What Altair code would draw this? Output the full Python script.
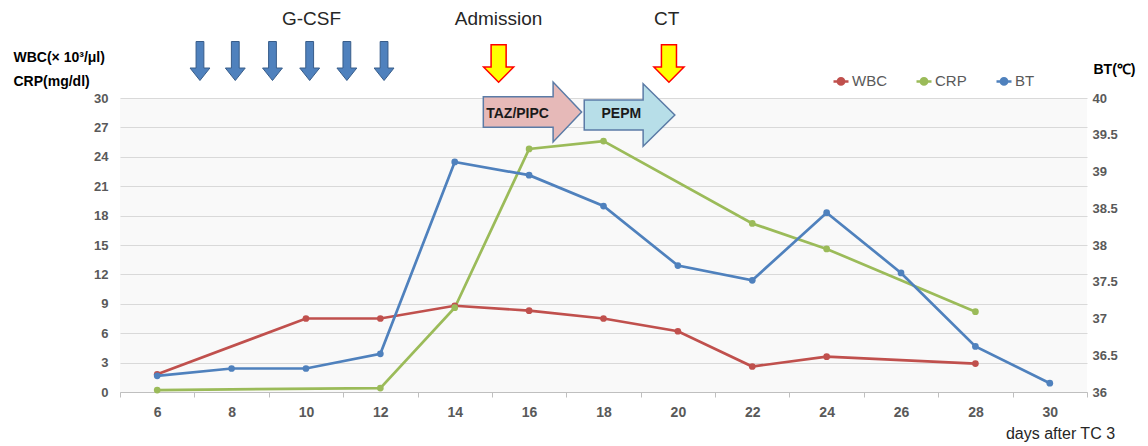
import altair as alt
import pandas as pd

# ---- data ----
days = [6, 8, 10, 12, 14, 16, 18, 20, 22, 24, 26, 28, 30]

wbc_days = [6, 10, 12, 14, 16, 18, 20, 22, 24, 28]
wbc_vals = [1.8, 7.5, 7.5, 8.8, 8.3, 7.5, 6.2, 2.6, 3.6, 2.9]

crp_days = [6, 12, 14, 16, 18, 22, 24, 28]
crp_vals = [0.2, 0.4, 8.6, 24.8, 25.6, 17.2, 14.6, 8.2]

bt_days = [6, 8, 10, 12, 14, 16, 18, 20, 22, 24, 26, 28, 30]
bt_vals = [36.22, 36.32, 36.32, 36.52, 39.13, 38.95, 38.53, 37.72, 37.52, 38.44, 37.62, 36.62, 36.12]

series_names = ["WBC", "CRP", "BT"]
series_colors = ["#C0504D", "#9BBB59", "#4F81BD"]

gcsf_days = [7.15, 8.1, 9.1, 10.1, 11.1, 12.1]
event_labels = ["G-CSF", "Admission", "CT"]
event_label_days = [10.15, 15.18, 19.7]
event_arrow_days = [15.18, 19.76]
treat_labels = ["TAZ/PIPC", "PEPM"]
treat_arrow_days = [16.09, 18.70]
treat_label_days = [15.69, 18.48]

# ---- frames ----
df_left = pd.DataFrame({
    "day": wbc_days + crp_days,
    "value": wbc_vals + crp_vals,
    "series": ["WBC"] * len(wbc_days) + ["CRP"] * len(crp_days),
})
df_bt = pd.DataFrame({"day": bt_days, "value": bt_vals, "series": ["BT"] * len(bt_days)})
df_gcsf = pd.DataFrame({"day": gcsf_days})
df_evlab = pd.DataFrame({"day": event_label_days, "label": event_labels})
df_evarrow = pd.DataFrame({"day": event_arrow_days})
df_taz = pd.DataFrame({"day": [treat_arrow_days[0]], "label": [treat_labels[0]]})
df_pepm = pd.DataFrame({"day": [treat_arrow_days[1]], "label": [treat_labels[1]]})
df_treatlab = pd.DataFrame({"day": treat_label_days, "label": treat_labels})

FONT = "Liberation Sans"
LABEL_GRAY = "#595959"

band_scale = alt.Scale(type="band", domain=days, paddingInner=0, paddingOuter=0)
xq = alt.X("day:Q", scale=alt.Scale(domain=[5, 31], nice=False, zero=False), axis=None)

leg_path = ("M-1,0L-0.42,0M0.42,0L1,0"
            "M0.42,0A0.42,0.42,0,1,1,-0.42,0A0.42,0.42,0,1,1,0.42,0Z")

color = alt.Color(
    "series:N",
    scale=alt.Scale(domain=series_names, range=series_colors),
    legend=alt.Legend(
        title=None, orient="none", legendX=712, legendY=-26, direction="horizontal",
        symbolType=leg_path, symbolSize=225, symbolStrokeWidth=2.5,
        labelFontSize=15, labelColor=LABEL_GRAY, labelFont=FONT, labelOffset=2,
        columnPadding=24, padding=0,
    ),
)

left = alt.Chart(df_left).mark_line(
    strokeWidth=2.7, point=alt.OverlayMarkDef(filled=True, size=45)
).encode(
    x=alt.X("day:O", scale=band_scale, bandPosition=0.5,
            axis=alt.Axis(title="days after TC 3", labelAngle=0, tickBand="extent", grid=False,
                          labelFont=FONT, labelFontSize=14, labelFontWeight="bold",
                          labelColor=LABEL_GRAY, labelPadding=8, tickSize=5,
                          tickColor="#bfbfbf", domainColor="#bfbfbf",
                          titleFont=FONT, titleFontSize=16, titleFontWeight="normal",
                          titleColor="#262626", titleX=940, titleY=41, titleAlign="center",
                          titleBaseline="middle")),
    y=alt.Y("value:Q", scale=alt.Scale(domain=[0, 30], nice=False),
            axis=alt.Axis(values=list(range(0, 31, 3)),
                          title=["WBC(× 10³/μl)", "CRP(mg/dl)"], titleAngle=0,
                          titleAlign="left", titleBaseline="middle", titleX=-107, titleY=-41,
                          titleLineHeight=24, titleFont=FONT, titleFontSize=14,
                          titleFontWeight="bold", titleColor="#000000",
                          labelFont=FONT, labelFontSize=13, labelFontWeight="bold",
                          labelColor=LABEL_GRAY, labelPadding=12, ticks=False, domain=False,
                          grid=True, gridColor="#d9d9d9")),
    color=color,
)

bt = alt.Chart(df_bt).mark_line(
    strokeWidth=2.7, point=alt.OverlayMarkDef(filled=True, size=45)
).encode(
    x=alt.X("day:O", scale=band_scale, bandPosition=0.5, axis=None),
    y=alt.Y("value:Q", scale=alt.Scale(domain=[36, 40], nice=False, zero=False),
            axis=alt.Axis(orient="right", values=[36, 36.5, 37, 37.5, 38, 38.5, 39, 39.5, 40],
                          labelExpr="datum.value % 1 === 0 ? format(datum.value, 'd') : format(datum.value, '.1f')",
                          title="BT(℃)", titleAngle=0, titleAlign="left",
                          titleBaseline="middle", titleX=6, titleY=-29,
                          titleFont=FONT, titleFontSize=14, titleFontWeight="bold",
                          titleColor="#000000",
                          labelFont=FONT, labelFontSize=13, labelFontWeight="bold",
                          labelColor=LABEL_GRAY, labelPadding=5, ticks=False, domain=False,
                          grid=False)),
    color=color,
)

blue_arrow = "M-0.2,-1L0.2,-1L0.2,0.36L0.51,0.36L0,1L-0.51,0.36L-0.2,0.36Z"
yellow_arrow = "M-0.4,-1L0.4,-1L0.4,0.19L0.8,0.19L0,1L-0.8,0.19L-0.4,0.19Z"
taz_arrow = "M-1,-0.31L0.42,-0.31L0.42,-0.61L1,0L0.42,0.61L0.42,0.31L-1,0.31Z"
pepm_arrow = "M-1,-0.33L0.3,-0.33L0.3,-0.69L1,0L0.3,0.69L0.3,0.33L-1,0.33Z"

gcsf = alt.Chart(df_gcsf).mark_point(
    shape=blue_arrow, size=1521, filled=True, fill="#4F81BD", stroke="#385D8A",
    strokeWidth=1, opacity=1,
).encode(x=xq, y=alt.value(-37))

evarrow = alt.Chart(df_evarrow).mark_point(
    shape=yellow_arrow, size=1414, filled=True, fill="#FFFF00", stroke="#FF0000",
    strokeWidth=1.5, opacity=1,
).encode(x=xq, y=alt.value(-34.5))

evlab = alt.Chart(df_evlab).mark_text(
    font=FONT, fontSize=19, color="#262626", baseline="middle", align="center"
).encode(x=xq, y=alt.value(-79), text="label:N")

taz = alt.Chart(df_taz).mark_point(
    shape=taz_arrow, size=9663, filled=True, fill="#E6B9B8", stroke="#5B7BA6",
    strokeWidth=1.5, opacity=1,
).encode(x=xq, y=alt.value(14))

pepm = alt.Chart(df_pepm).mark_point(
    shape=pepm_arrow, size=8208, filled=True, fill="#B7DEE8", stroke="#5B7BA6",
    strokeWidth=1.5, opacity=1,
).encode(x=xq, y=alt.value(17))

treatlab = alt.Chart(df_treatlab).mark_text(
    font=FONT, fontSize=14, fontWeight="bold", color="#1a1a1a", baseline="middle", align="center"
).encode(x=xq, y=alt.value(16), text="label:N")

chart = alt.layer(left, bt, gcsf, evarrow, evlab, taz, pepm, treatlab).resolve_scale(
    y="independent", x="independent"
).properties(
    width=967, height=294,
    autosize=alt.AutoSizeParams(type="none"),
    padding={"left": 112, "top": 90, "right": 49, "bottom": 50},
).configure_view(fill="#f9f9f9", stroke=None)

chart.save("out.html", embed_options={"renderer": "svg", "actions": False})
